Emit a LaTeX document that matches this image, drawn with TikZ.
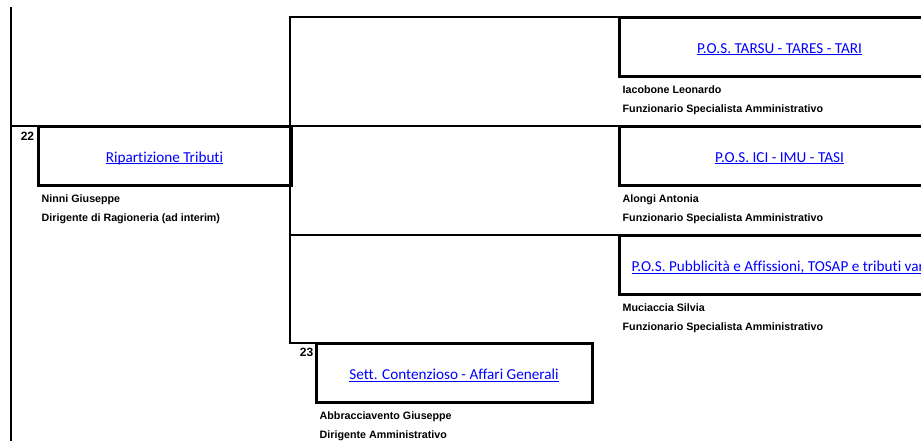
\documentclass[tikz,border=0pt]{standalone}
\usepackage{fontspec}
\setmainfont{Liberation Sans}
\newfontfamily\linkfont[Ligatures=NoCommon]{Carlito}
\usetikzlibrary{calc}
\definecolor{linkblue}{RGB}{0,0,255}
\newcommand\linkul[1]{\setbox0\hbox{#1}\raisebox{-3pt}[\height][\depth]{\rlap{\rule[-1.8pt]{\wd0}{0.9pt}}\box0}}
\begin{document}
\begin{tikzpicture}[x=1pt,y=-1pt,
  unitbox/.style={draw=black, line width=3pt, outer sep=0pt, inner sep=0pt,
    anchor=north west, minimum height=59pt, text=linkblue,
    font=\linkfont\fontsize{15.2}{18}\selectfont},
  person/.style={font=\fontsize{10.7}{12}\selectfont\bfseries, anchor=base west, inner sep=0pt},
  num/.style={font=\fontsize{12}{14}\selectfont\bfseries, inner sep=0pt},
  conn/.style={line width=2.2pt}]
\useasboundingbox (0,0) rectangle (921,440);
\clip (0,0) rectangle (921,440);

% unit boxes
\node[unitbox, minimum width=253pt] (b22) at (38,126) {\linkul{Ripartizione Tributi}};
\node[unitbox, minimum width=321pt] (tarsu) at (619,17) {\linkul{P.O.S. TARSU - TARES - TARI}};
\node[unitbox, minimum width=321pt] (ici) at (619,126) {\linkul{P.O.S. ICI - IMU - TASI}};
\node[unitbox, minimum width=321pt] (pubb) at (619,235) {\linkul{P.O.S. Pubblicità e Affissioni, TOSAP e tributi vari}};
\node[unitbox, minimum width=276pt] (b23) at (316,343) {\linkul{Sett. Contenzioso - Affari Generali}};

% numbers
\node[num] (n22) at (27.5,136) {22};
\node[num] (n23) at (306.5,352) {23};

% people
\node[person] (p22a) at ($(b22.south west)+(3.5,17)$) {Ninni Giuseppe};
\node[person] (p22b) at ($(b22.south west)+(3.5,36)$) {Dirigente di Ragioneria (ad interim)};
\node[person] (pta) at ($(tarsu.south west)+(3.5,17)$) {Iacobone Leonardo};
\node[person] (ptb) at ($(tarsu.south west)+(3.5,36)$) {Funzionario Specialista Amministrativo};
\node[person] (pia) at ($(ici.south west)+(3.5,17)$) {Alongi Antonia};
\node[person] (pib) at ($(ici.south west)+(3.5,36)$) {Funzionario Specialista Amministrativo};
\node[person] (ppa) at ($(pubb.south west)+(3.5,17)$) {Muciaccia Silvia};
\node[person] (ppb) at ($(pubb.south west)+(3.5,36)$) {Funzionario Specialista Amministrativo};
\node[person] (p23a) at ($(b23.south west)+(3.5,17)$) {Abbracciavento Giuseppe};
\node[person] (p23b) at ($(b23.south west)+(3.5,36)$) {Dirigente Amministrativo};

% connectors
\coordinate (trunkTop) at (11,7);
\coordinate (trunkBot) at (11,445);
\coordinate (j) at (290,17);
\draw[conn] (trunkTop) -- (trunkBot);
\draw[conn] (trunkTop |- b22.north west) -- (b22.north west);
\draw[conn] (tarsu.north west) -- (j) -- (j |- b23.north west) -- (b23.north west);
\draw[conn] (j |- ici.north west) -- (ici.north west);
\draw[conn] (j |- pubb.north west) -- (pubb.north west);
\end{tikzpicture}
\end{document}
